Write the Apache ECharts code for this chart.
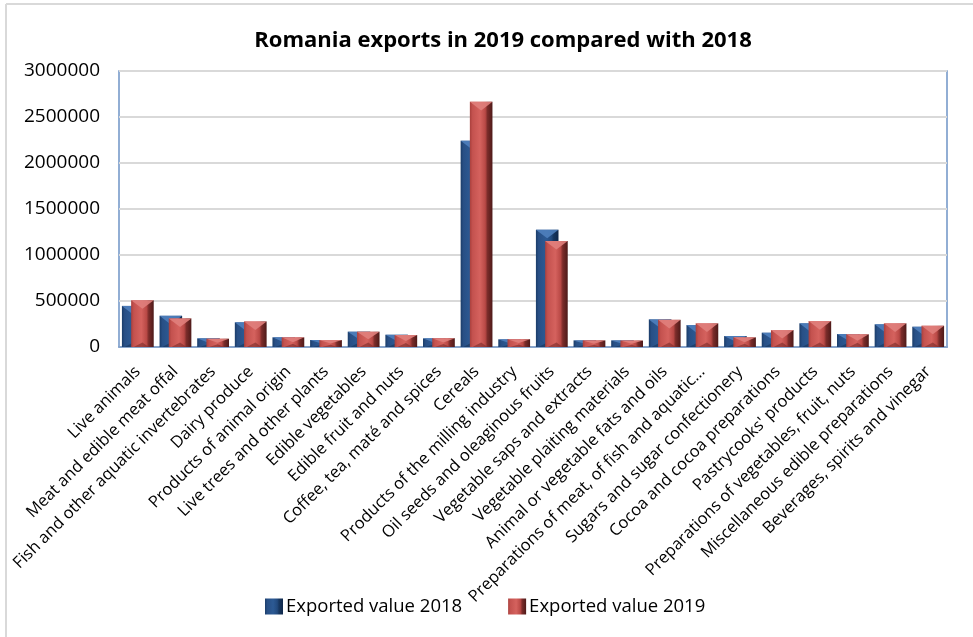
<!DOCTYPE html>
<html>
<head>
<meta charset="utf-8">
<script src="https://cdn.jsdelivr.net/npm/echarts@6/dist/echarts.min.js"></script>
<style>html,body{margin:0;padding:0;background:#fff}#c{width:973px;height:637px}</style>
</head>
<body>
<div id="c"></div>
<script>
const categories = [
  "Live animals",
  "Meat and edible meat offal",
  "Fish and other aquatic invertebrates",
  "Dairy produce",
  "Products of animal origin",
  "Live trees and other plants",
  "Edible vegetables",
  "Edible fruit and nuts",
  "Coffee, tea, maté and spices",
  "Cereals",
  "Products of the milling industry",
  "Oil seeds and oleaginous fruits",
  "Vegetable saps and extracts",
  "Vegetable plaiting materials",
  "Animal or vegetable fats and oils",
  "Preparations of meat, of fish and aquatic...",
  "Sugars and sugar confectionery",
  "Cocoa and cocoa preparations",
  "Pastrycooks' products",
  "Preparations of vegetables, fruit, nuts",
  "Miscellaneous edible preparations",
  "Beverages, spirits and vinegar"
];
const values2018 = [447000, 339000, 94000, 268000, 105000, 76000, 166000, 133000, 94000, 2243000, 83000, 1275000, 72000, 72000, 300000, 238000, 119000, 155000, 257000, 141000, 246000, 220000];
const values2019 = [509000, 311000, 90000, 278000, 105000, 75000, 166000, 130000, 96000, 2665000, 85000, 1152000, 72000, 70000, 295000, 257000, 105000, 184000, 282000, 138000, 257000, 231000];
const yTicks = [0, 500000, 1000000, 1500000, 2000000, 2500000, 3000000];
const seriesNames = ["Exported value 2018", "Exported value 2019"];

const FONT = '"Open Sans", Lato, sans-serif';

function hgrad(stops){
  return new echarts.graphic.LinearGradient(0,0,1,0, stops.map((c,i)=>({offset:c[0], color:c[1]})));
}
const palette = {
  blue: {
    body: [[0,'#1b3d69'],[0.12,'#284f85'],[0.45,'#2c5a94'],[0.68,'#224a7e'],[0.78,'#173760'],[1,'#10284a']],
    top: '#4f7fbd', bottom: '#173459'
  },
  red: {
    body: [[0,'#a9403d'],[0.12,'#c4524f'],[0.45,'#d5625e'],[0.68,'#b94946'],[0.78,'#7b2c2a'],[1,'#4d1a19']],
    top: '#e0807c', bottom: '#7a2a28'
  }
};

function makeRender(offsetFrac, pal){
  return function(params, api){
    const idx = api.value(0), v = api.value(1);
    const top = api.coord([idx, v]);
    const base = api.coord([idx, 0]);
    const band = api.size([1,0])[0];
    const w = band*0.6;
    const cx = top[0] + offsetFrac*band;
    const x0 = cx - w/2, y0 = top[1], h = base[1]-top[1];
    const th = Math.min(w*0.38, h/2);
    const bh = Math.min(w*0.2, h/3);
    return {
      type:'group',
      children:[
        {type:'rect', shape:{x:x0, y:y0, width:w, height:h}, style:{fill: hgrad(pal.body)}},
        {type:'polygon', shape:{points:[[x0,y0],[x0+w,y0],[cx,y0+th]]}, style:{fill: pal.top, opacity:0.9}},
        {type:'polygon', shape:{points:[[x0+w*0.12,y0+h],[x0+w*0.78,y0+h],[cx,y0+h-bh]]}, style:{fill: pal.bottom, opacity:0.6}}
      ]
    };
  };
}

const chart = echarts.init(document.getElementById('c'), null, {renderer:'canvas'});
chart.setOption({
  animation:false,
  backgroundColor:'#ffffff',
  textStyle:{fontFamily:FONT},
  title:{
    text:'Romania exports in 2019 compared with 2018',
    left:498, top:25, textAlign:'center',
    textStyle:{fontFamily:FONT, fontSize:22, fontWeight:'bold', color:'#000'}
  },
  legend:{
    left:265, top:597, padding:0, itemWidth:18, itemHeight:16, itemGap:46,
    icon:'rect',
    textStyle:{fontFamily:FONT, fontSize:18.5, color:'#000', padding:[0,0,0,-2]},
    data:[
      {name:seriesNames[0], itemStyle:{color:hgrad(palette.blue.body)}},
      {name:seriesNames[1], itemStyle:{color:hgrad(palette.red.body)}}
    ]
  },
  grid:{left:119, right:26, top:71, bottom:290, show:true, borderColor:'#6f94c6', borderWidth:1.5, backgroundColor:'transparent'},
  xAxis:{
    type:'category', data:categories,
    axisLine:{show:true, lineStyle:{color:'#6f94c6', width:1.5}},
    axisTick:{show:false},
    axisLabel:{interval:0, rotate:45, margin:22, fontFamily:FONT, fontSize:16.5, color:'#000'}
  },
  yAxis:{
    type:'value', min:yTicks[0], max:yTicks[yTicks.length-1], interval:yTicks[1]-yTicks[0],
    axisLine:{show:false}, axisTick:{show:false},
    splitLine:{lineStyle:{color:'#d9d9d9', width:2}},
    axisLabel:{fontFamily:FONT, fontSize:19, color:'#000', margin:19, formatter:function(v){return String(v);}}
  },
  graphic:[
    {type:'line', shape:{x1:6, y1:4, x2:6, y2:637}, style:{stroke:'#d9d9d9', lineWidth:2}},
    {type:'line', shape:{x1:6, y1:4, x2:973, y2:4}, style:{stroke:'#d9d9d9', lineWidth:2}}
  ],
  series:[
    {name:seriesNames[0], type:'custom', renderItem:makeRender(-0.1225, palette.blue),
     encode:{x:0, y:1}, itemStyle:{color:'#2a5791'},
     data:values2018.map((v,i)=>[i,v])},
    {name:seriesNames[1], type:'custom', renderItem:makeRender(0.1225, palette.red),
     encode:{x:0, y:1}, itemStyle:{color:'#c4524f'},
     data:values2019.map((v,i)=>[i,v])}
  ]
});
</script>
</body>
</html>
